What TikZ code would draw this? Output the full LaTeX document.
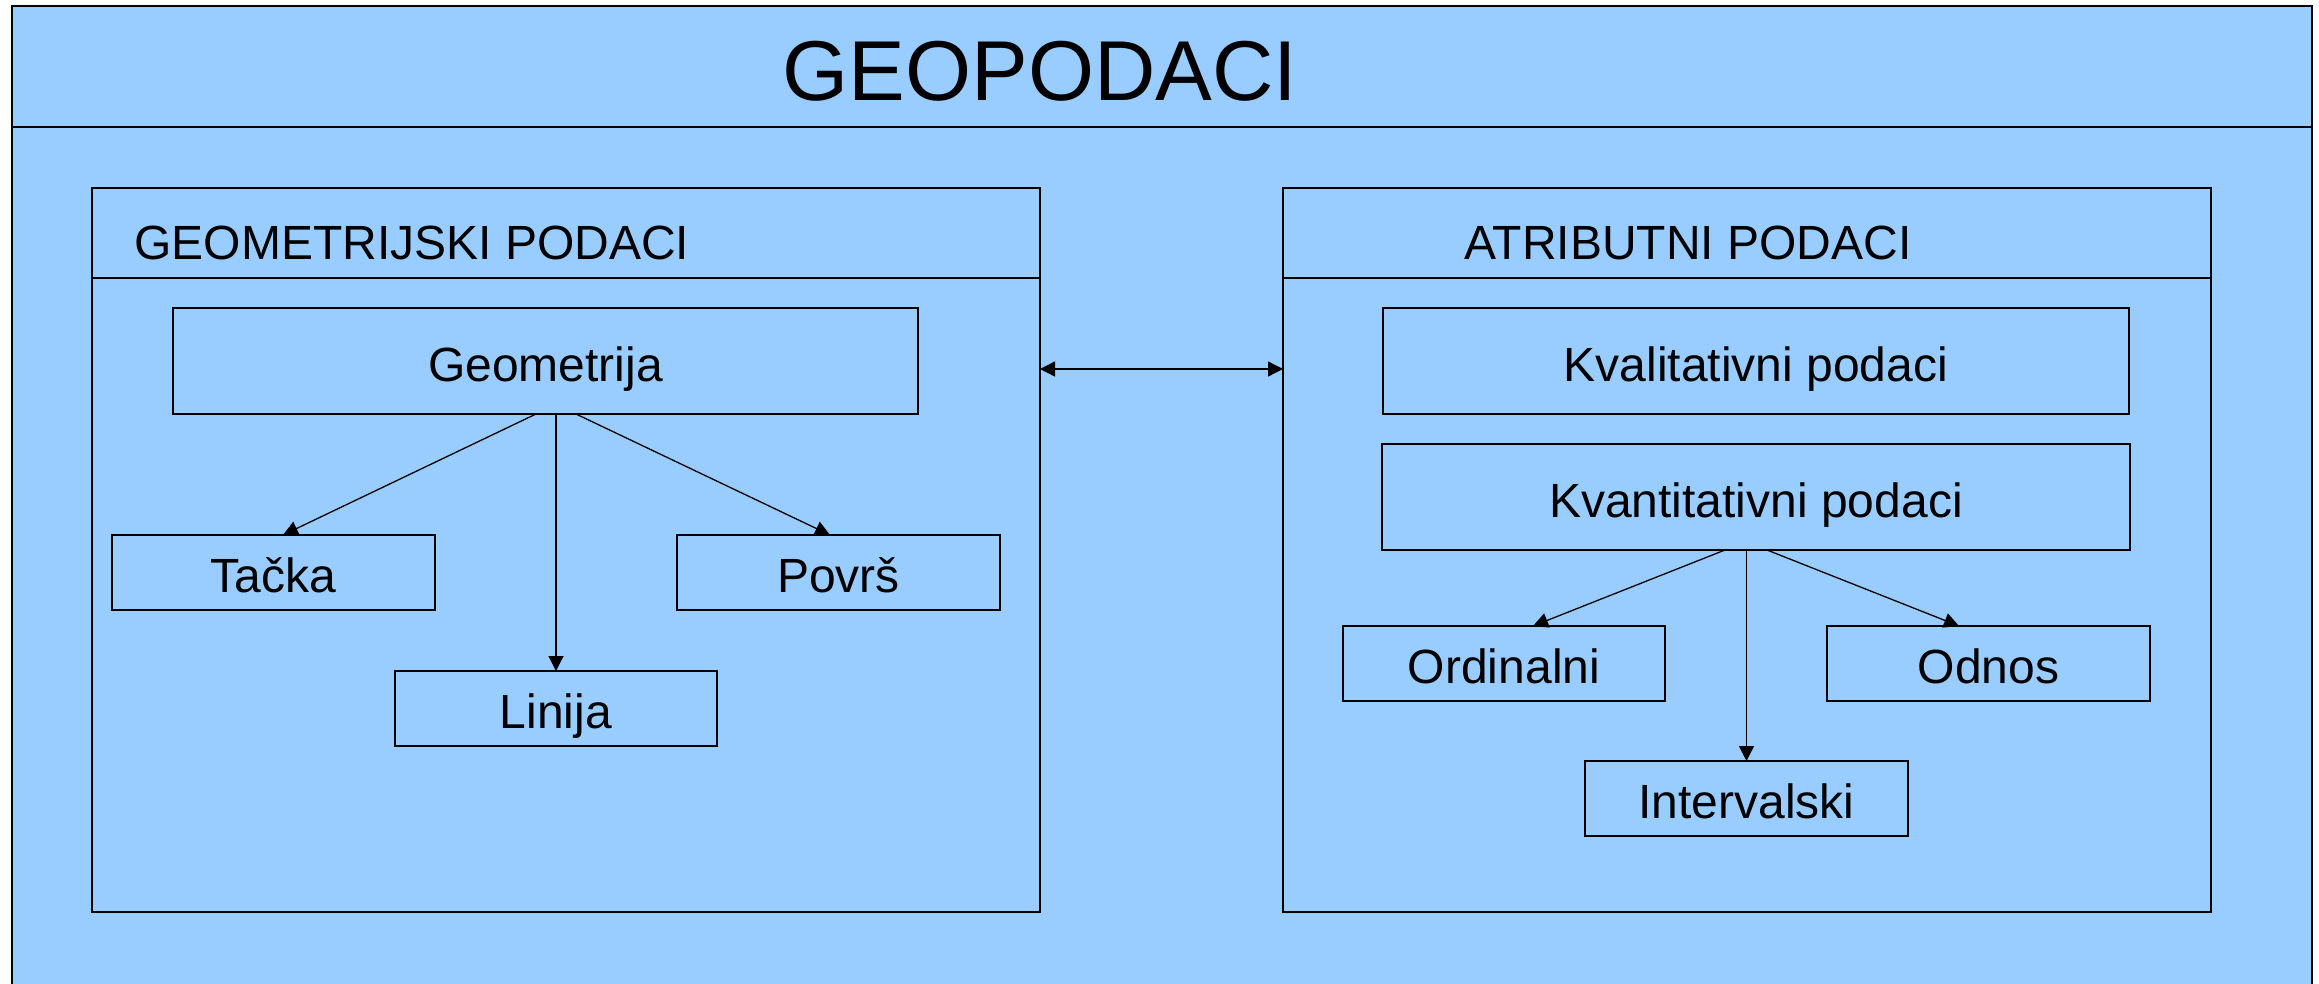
\documentclass[tikz,border=0pt]{standalone}
\usepackage{fontspec}
\setmainfont{Liberation Sans}
\usetikzlibrary{arrows.meta,calc}
\definecolor{bg}{RGB}{153,204,255}
\begin{document}
\begin{tikzpicture}[x=0.5pt,y=-0.5pt,
  lw/.style={line width=0.65pt},
  box/.style={draw,lw,fill=bg,inner sep=0pt,outer sep=0pt,font=\fontsize{24}{28}\selectfont,text height=20.26pt,text depth=0pt},
  panel/.style={draw,lw,fill=bg,inner sep=0pt,outer sep=0pt,minimum height=362pt},
  arr/.style={lw,-{Triangle[length=7.5pt,width=7.5pt]}},
  darr/.style={lw,{Triangle[length=7.5pt,width=7.5pt]}-{Triangle[length=7.5pt,width=7.5pt]}},
  hdr/.style={anchor=base west,inner sep=0pt,font=\fontsize{24}{28}\selectfont},
]
\useasboundingbox (0,0) rectangle (2319,984);
\clip (0,0) rectangle (2319,984);
\draw[line width=0.75pt,fill=bg] (12,6) rectangle (2312,1000);
\draw[line width=0.75pt] (12,127) -- (2312,127);
\node[anchor=base west,inner sep=0pt,font=\fontsize{42.5}{50}\selectfont] (title) at (782,101) {GEOPODACI};

% panels
\node[panel,minimum width=474pt] (geo) at (566,550) {};
\node[panel,minimum width=464pt] (atr) at (1747,550) {};
\draw[lw] ($(geo.north west)+(0,90)$) -- ($(geo.north east)+(0,90)$);
\draw[lw] ($(atr.north west)+(0,90)$) -- ($(atr.north east)+(0,90)$);
\node[hdr] (geohdr) at (134,260) {GEOMETRIJSKI PODACI};
\node[hdr] (atrhdr) at (1464,260) {ATRIBUTNI PODACI};

% left boxes
\node[box,minimum width=372.5pt,minimum height=53pt] (geom) at (545.5,361) {Geometrija};
\node[box,minimum width=161.5pt,minimum height=37.5pt] (tacka) at (273.5,572.5) {Tačka};
\node[box,minimum width=161.5pt,minimum height=37.5pt] (povrs) at (838.5,572.5) {Površ};
\node[box,minimum width=161pt,minimum height=37.5pt] (linija) at (556,708.5) {Linija};

% right boxes
\node[box,minimum width=373pt,minimum height=53pt] (kval) at (1756,361) {Kvalitativni podaci};
\node[box,minimum width=374pt,minimum height=53pt] (kvant) at (1756,497) {Kvantitativni podaci};
\node[box,minimum width=161pt,minimum height=37.5pt] (ord) at (1504,663.5) {Ordinalni};
\node[box,minimum width=161.5pt,minimum height=37.5pt] (odnos) at (1988.5,663.5) {Odnos};
\node[box,minimum width=161.5pt,minimum height=37.5pt] (interv) at (1746.5,798.5) {Intervalski};

% connectors
\draw[darr] ($(geo.east)+(0,-181)$) -- ($(atr.west)+(0,-181)$);
\draw[arr] ($(geom.south)+(-9.5,0)$) -- ($(tacka.north)+(9.5,0)$);
\draw[arr] (geom.south -| linija.north) -- (linija.north);
\draw[arr] ($(geom.south)+(30.5,0)$) -- ($(povrs.north)+(-8.5,0)$);
\draw[arr] ($(kvant.south)+(-31,0)$) -- ($(ord.north)+(29,0)$);
\draw[arr] (kvant.south -| interv.north) -- (interv.north);
\draw[arr] ($(kvant.south)+(11,0)$) -- ($(odnos.north)+(-29.5,0)$);
\end{tikzpicture}
\end{document}
